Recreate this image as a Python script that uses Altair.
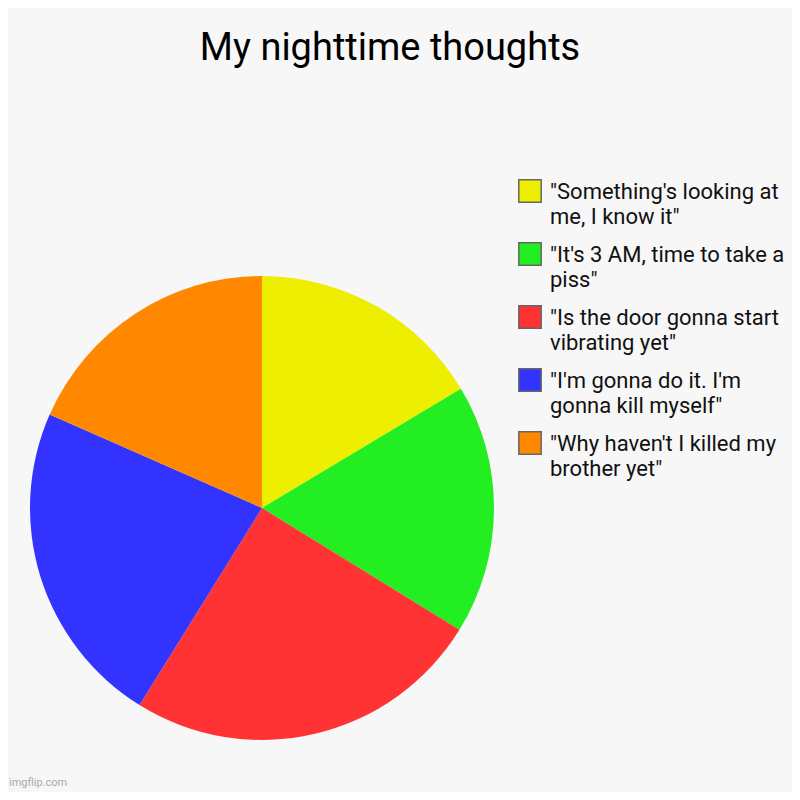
import altair as alt
import pandas as pd

categories = [
    "\"Something's looking at\nme, I know it\"",
    "\"It's 3 AM, time to take a\npiss\"",
    "\"Is the door gonna start\nvibrating yet\"",
    "\"I'm gonna do it. I'm\ngonna kill myself\"",
    "\"Why haven't I killed my\nbrother yet\"",
]
values = [16.4, 17.4, 25.05, 22.75, 18.4]
colors = ["#EEEE00", "#22EE22", "#FF3333", "#3333FF", "#FF8800"]

df = pd.DataFrame({"category": categories, "value": values, "idx": list(range(len(values)))})

pie = alt.Chart(df).mark_arc(outerRadius=232, stroke=None).encode(
    theta=alt.Theta("value:Q", stack=True),
    color=alt.Color(
        "category:N",
        scale=alt.Scale(domain=categories, range=colors),
        legend=alt.Legend(
            title=None,
            orient="none",
            legendX=510,
            legendY=-45,
            padding=0,
            symbolType="square",
            symbolSize=500,
            symbolStrokeWidth=1.5,
            symbolStrokeColor="#666666",
            symbolOpacity=1,
            labelFont="Roboto",
            labelFontSize=22,
            labelColor="#111111",
            labelLimit=400,
            labelOffset=8,
            labelBaseline="top",
            rowPadding=11,
            labelExpr="split(datum.label, '\\n')",
        ),
    ),
    order=alt.Order("idx:Q"),
)

wm = alt.Chart(pd.DataFrame({"t": ["imgflip.com"]})).mark_text(
    font="Roboto", fontSize=11, color="#aaaaaa", align="left", baseline="alphabetic"
).encode(text="t:N", x=alt.value(1), y=alt.value(562))

chart = alt.layer(pie, wm).properties(
    width=508,
    height=568,
    autosize=alt.AutoSizeParams(type="none"),
    padding={"left": 0, "top": 216, "right": 276, "bottom": 0},
    background="#f7f7f7",
    title=alt.TitleParams(
        "My nighttime thoughts",
        font="Roboto",
        fontSize=38,
        fontWeight="normal",
        color="#000000",
        anchor="middle",
        dx=128,
        offset=111,
    ),
).configure(
    style={"guide-label": {"dy": -9, "lineHeight": 25}}
).configure_view(stroke=None)

chart.save("out.html", embed_options={"renderer": "svg", "actions": False})
